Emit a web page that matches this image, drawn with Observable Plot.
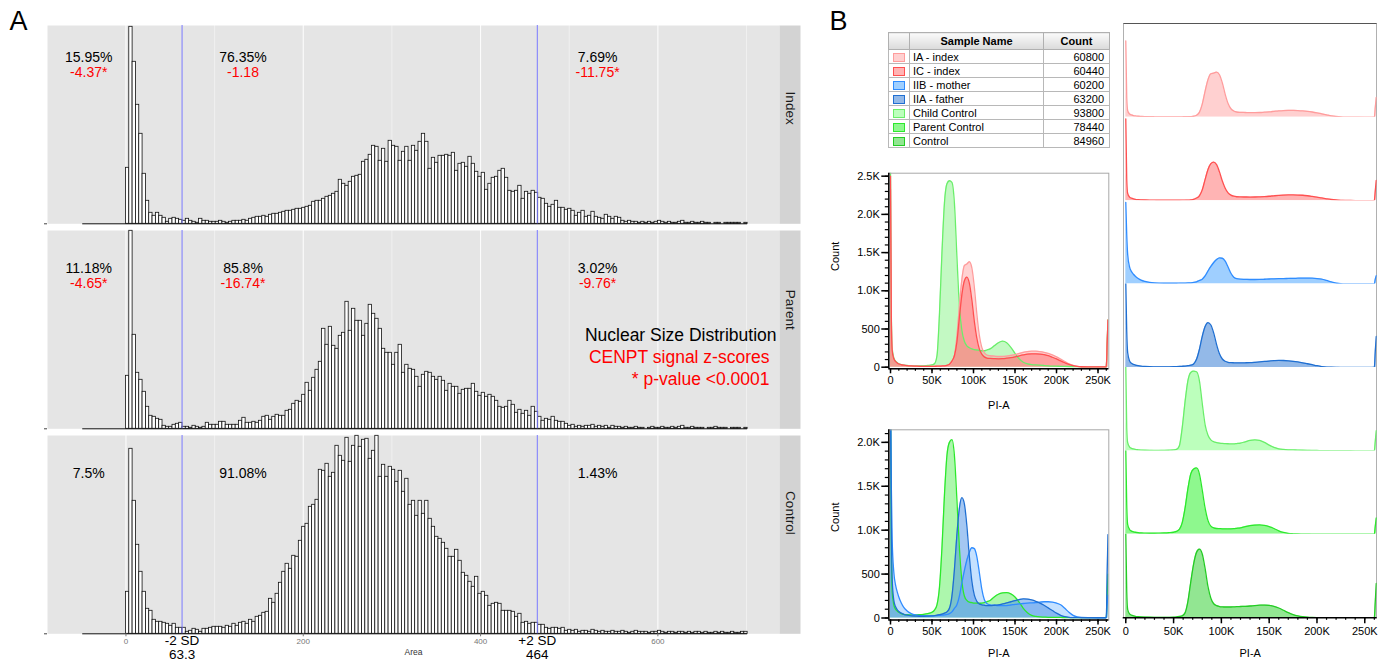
<!DOCTYPE html>
<html>
<head>
<meta charset="utf-8">
<script src="https://cdn.jsdelivr.net/npm/d3@7"></script>
<script src="https://cdn.jsdelivr.net/npm/@observablehq/plot@0.6"></script>
<style>
html,body{margin:0;padding:0;background:#fff;}
#root{position:relative;width:1388px;height:661px;overflow:hidden;font-family:"Liberation Sans",Arial,Helvetica,sans-serif;}
.slot{position:absolute;}
.slot svg{display:block;max-width:none;overflow:visible;}
.letter{position:absolute;font-size:27px;line-height:27px;color:#000;}
#legend{position:absolute;left:888px;top:32px;border-collapse:collapse;font-size:11px;line-height:12px;color:#000;table-layout:fixed;width:221px;}
#legend th{height:16px;background:linear-gradient(#fafafa,#dadada);border:1px solid #b0b0b0;font-weight:bold;padding:0;}
#legend td{height:13px;border:1px solid #b8b8b8;padding:0 3px;white-space:nowrap;overflow:hidden;}
#legend td.sw{padding:0;text-align:center;}
#legend td.num{text-align:right;padding-right:5px;}
.swatch{display:inline-block;width:10px;height:7px;vertical-align:middle;}
#stackbox{position:absolute;left:1122.5px;top:23px;width:254.5px;height:595px;border-left:1px solid #b0b0b0;border-right:1px solid #b0b0b0;border-top:1px solid #555;box-sizing:border-box;}
</style>
</head>
<body>
<div id="root"></div>
<script>
// ---------------- Panel A data ----------------
const facets = ["Index", "Parent", "Control"];
const binStart = -48.75;
const binWidth = 3.75;
const indexCounts = [0,0,0,0,0,0,0,0,0,0,0,0,0,
56,197,162,119,90,50,23,11,8,11,
8,6,2,5,6,5,4,3,5,3,
2,1,5,3,3,2,
2,2,3,2,1,2,3,
3,3,4,3,5,6,7,
7,8,7,9,10,10,11,
12,13,13,14,15,15,16,
17,18,22,23,23,25,27,
28,30,32,44,
40,38,42,47,48,49,62,
64,69,78,77,63,75,62,83,
78,77,63,
72,77,63,78,73,82,
90,
82,55,66,61,68,68,69,68,71,53,
60,61,57,67,60,52,47,51,34,40,
46,47,53,55,46,33,32,33,38,25,
32,30,33,31,26,25,20,17,19,23,
16,16,14,15,13,8,11,13,7,8,
12,7,6,5,9,7,5,7,6,3,
2,3,2,2,1,2,1,2,1,2,3,2,1,2,1,1,2,3,1,1,2,1,1,2,1,1,0,1,1,0,1,1,1,1,1,0,1];
const parentCounts = [0,0,0,0,0,0,0,0,0,0,0,0,0,
53,198,94,56,49,37,22,13,12,10,
9,3,2,
2,4,5,6,2,2,1,3,2,1,2,6,4,4,4,7,7,4,4,4,4,
8,11,6,6,7,6,8,12,13,9,12,14,13,13,
18,19,25,28,27,34,46,38,51,59,67,
100,84,102,83,80,93,96,127,98,120,108,108,
93,105,124,115,110,100,80,76,76,64,76,84,
56,64,60,59,52,42,54,57,56,52,49,52,48,38,45,42,42,35,39,40,40,45,37,33,36,32,34,32,28,22,21,22,28,24,16,19,15,18,13,22,17,12,8,10,9,12,8,7,7,5,3,4,2,3,2,3,3,4,2,3,2,3,1,3,2,
2,1,2,1,1,2,1,1,0,1,2,1,1,2,1,1,2,1,2,3,1,1,2,1,1,1,0,1,1,2,1,1,1,0,1,1,1,0,1];
const controlCounts = [0,0,0,0,0,0,0,0,0,0,0,0,0,
42,185,133,89,62,42,25,23,14,12,
12,11,10,8,10,6,6,6,2,3,
5,4,2,5,5,6,7,7,7,6,
8,7,10,8,11,12,10,14,12,17,
18,21,22,35,31,40,51,62,70,65,
78,77,93,107,110,127,129,134,164,163,
170,157,161,188,178,173,196,172,188,198,
187,194,195,175,183,198,157,169,157,167,
164,152,163,142,155,129,133,118,133,120,
133,115,107,97,95,91,85,77,77,84,
73,61,58,52,47,57,40,42,38,28,
30,31,30,23,23,23,22,17,20,11,12,10,11,11,9,9,6,5,6,6,5,6,3,
4,3,4,2,3,3,2,4,3,2,3,2,2,3,2,2,3,2,1,2,3,2,2,2,1,2,2,3,2,1,2,2,1,2,2,1,2,1,2,2,1,2,1,1,2,1,2,1,1,2,1,1,2,2];
const sdValues = [63.3, 464];
const sdNames = ["-2 SD", "+2 SD"];
const pctLabels = [["15.95%","76.35%","7.69%"],["11.18%","85.8%","3.02%"],["7.5%","91.08%","1.43%"]];
const zLabels = [["-4.37*","-1.18","-11.75*"],["-4.65*","-16.74*","-9.76*"],[]];
const noteLines = ["Nuclear Size Distribution","CENPT signal z-scores","* p-value <0.0001"];
const areaTicks = [0, 200, 400, 600];
const areaMinor = [100, 300, 500, 700];

// ---------------- Panel B data ----------------
const sampleNames = ["IA - index","IC - index","IIB - mother","IIA - father","Child Control","Parent Control","Control"];
const sampleCounts = [60800,60440,60200,63200,93800,78440,84960];
const flowK = [0,1,2,4,6,8,10,13,16,20,25,30,35,40,45,50,53,56,59,62,65,68,71,74,77,80,83,86,89,92,95,98,101,104,107,110,113,116,120,125,130,135,140,145,150,155,160,165,170,175,180,185,190,195,200,205,210,215,220,225,230,240,250,258,260,261,262];
const iaVals = [2330,600,200,100,70,50,40,30,25,20,16,14,12,12,12,12,12,13,14,15,17,20,30,60,150,400,800,1150,1330,1350,1380,1300,1050,700,420,260,190,160,150,145,140,140,145,155,165,180,195,205,210,210,205,195,180,160,135,105,75,45,25,12,6,4,3,3,5,300,610];
const icVals = [2500,650,220,110,75,55,42,32,26,20,16,14,12,12,12,12,12,13,14,16,18,25,40,80,150,330,650,950,1130,1180,1100,880,600,380,240,170,135,120,115,112,110,112,118,125,135,148,160,170,175,175,172,165,150,130,108,82,58,36,20,10,6,4,3,3,5,300,620];
const iibVals = [2500,1500,900,520,380,300,240,170,120,80,50,35,28,25,25,25,26,28,30,32,35,40,50,70,110,150,250,400,540,660,750,800,790,700,520,330,210,165,150,145,140,140,142,148,155,160,165,170,172,175,180,185,185,180,170,150,110,65,30,12,6,4,3,3,5,150,260];
const iiaVals = [2600,1100,450,200,130,95,75,55,42,32,25,22,20,20,22,25,28,32,38,45,55,70,110,250,550,950,1250,1370,1300,1050,700,420,260,190,160,150,145,142,142,145,150,160,172,185,198,210,218,215,205,190,170,145,115,85,55,30,15,8,5,4,3,3,3,3,5,500,950];
const ccVals = [2600,700,250,120,80,60,45,35,28,22,18,16,16,18,22,30,45,150,700,1500,2150,2400,2440,2420,2150,1450,800,480,340,280,255,240,230,225,220,215,215,225,240,280,320,340,320,260,180,110,65,45,35,30,26,22,18,15,13,11,10,9,8,7,6,5,5,5,6,300,620];
const pcVals = [2600,900,300,150,100,80,65,50,42,38,35,35,38,42,50,65,90,150,350,800,1400,1850,2000,2030,1850,1350,800,420,250,200,180,175,170,170,168,170,175,185,200,240,270,285,290,275,240,180,110,60,30,18,12,10,8,7,6,6,5,5,5,4,4,4,4,4,6,250,500];
const ctlVals = [2600,800,250,120,80,60,45,35,28,22,18,15,14,14,15,18,25,40,60,150,500,1100,1650,2000,2100,1950,1500,950,600,430,370,345,335,330,330,330,335,340,345,350,360,375,385,390,380,350,300,230,160,100,60,35,20,12,8,6,5,5,4,4,4,3,3,3,6,500,1050];
const flowSeries = [iaVals, icVals, iibVals, iiaVals, ccVals, pcVals, ctlVals];
const overlay1Members = ["Child Control", "IA - index", "IC - index"];
const overlay2Members = ["Parent Control", "IIB - mother", "IIA - father"];
const xMajorTicks = [0, 50000, 100000, 150000, 200000, 250000];
const yTicks1 = [0, 500, 1000, 1500, 2000, 2500];
const yTicks2 = [0, 500, 1000, 1500, 2000];

// ---------------- styles ----------------
const fontFam = '"Liberation Sans", Arial, Helvetica, sans-serif';
const sampleFill = {"IA - index":"#ffd0d0","IC - index":"#ffb4b4","IIB - mother":"#9fcfff","IIA - father":"#93b9e8","Child Control":"#bcffbc","Parent Control":"#8ef88e","Control":"#92e692"};
const sampleLine = {"IA - index":"#ff9c9c","IC - index":"#ff5050","IIB - mother":"#2f8cff","IIA - father":"#1f6fd2","Child Control":"#6aee6a","Parent Control":"#2ce82c","Control":"#24cc24"};
const overlayFill = {"IA - index":"#ffa6a6","IC - index":"#ff6e6e","IIB - mother":"#8cc4ff","IIA - father":"#4a90e6","Child Control":"#88f488","Parent Control":"#5cf05c","Control":"#5ed85e"};

const root = document.getElementById("root");
function slot(node, left, top) {
  const d = document.createElement("div");
  d.className = "slot";
  d.style.left = left + "px";
  d.style.top = top + "px";
  d.appendChild(node);
  root.appendChild(d);
  return d;
}

// ---------------- Panel A ----------------
const countsByFacet = [indexCounts, parentCounts, controlCounts];
const histRows = facets.flatMap((f, fi) => countsByFacet[fi].map((c, i) => ({
  facet: f, x1: binStart + i * binWidth, x2: binStart + (i + 1) * binWidth, h: c
})));
const histEnd = binStart + indexCounts.length * binWidth;
const labelX = [-42, 132, 532];
const pctRows = facets.flatMap((f, fi) => pctLabels[fi].map((t, ci) => ({facet: f, t, x: labelX[ci]})));
const zRows = facets.flatMap((f, fi) => zLabels[fi].map((t, ci) => ({facet: f, t, x: labelX[ci]})));
const sdRows = sdValues.map((v, i) => ({facet: "Control", x: v, label: sdNames[i] + "\n" + String(v)}));
const frameWA = 810 - 47 - 31;
const mid = {lineAnchor: "middle"};

const plotA = Plot.plot({
  width: 810, height: 661,
  marginLeft: 47, marginRight: 31, marginTop: 25, marginBottom: 27.7,
  style: {fontFamily: fontFam, background: "transparent", overflow: "visible"},
  x: {domain: [-88.5, 737.2]},
  y: {domain: [0, 198.3]},
  fy: {domain: facets, paddingInner: 0.0327, paddingOuter: 0, round: false, axis: null},
  marks: [
    Plot.frame({fill: "#e5e5e5"}),
    Plot.frame({fill: "#d3d3d3", insetLeft: frameWA - 21, dx: 21}),
    Plot.gridX({ticks: areaMinor, stroke: "#ffffff", strokeOpacity: 0.75, strokeWidth: 0.6}),
    Plot.gridX({ticks: areaTicks, stroke: "#ffffff", strokeOpacity: 0.9, strokeWidth: 1.1}),
    Plot.rectY(histRows, {x1: "x1", x2: "x2", y: "h", fy: "facet", fill: "white", stroke: "#111", strokeWidth: 0.8}),
    Plot.ruleY(facets.map(f => ({facet: f})), {fy: "facet", y: 0, x1: binStart, x2: histEnd, stroke: "#111", strokeWidth: 1}),
    Plot.ruleX(sdValues, {x: d => d, stroke: "#7a7aff", strokeWidth: 1}),
    Plot.text(pctRows.filter(d => d.facet === "Index"), {...mid, fy: "facet", x: "x", text: "t", frameAnchor: "top", dy: 31.7, fontSize: 14, fill: "#000"}),
    Plot.text(pctRows.filter(d => d.facet !== "Index"), {...mid, fy: "facet", x: "x", text: "t", frameAnchor: "top", dy: 37.7, fontSize: 14, fill: "#000"}),
    Plot.text(zRows.filter(d => d.facet === "Index"), {...mid, fy: "facet", x: "x", text: "t", frameAnchor: "top", dy: 47.3, fontSize: 14, fill: "#ff0000"}),
    Plot.text(zRows.filter(d => d.facet !== "Index"), {...mid, fy: "facet", x: "x", text: "t", frameAnchor: "top", dy: 53.3, fontSize: 14, fill: "#ff0000"}),
    Plot.text([{facet: "Parent", t: noteLines[0]}], {...mid, fy: "facet", text: "t", frameAnchor: "top-right", textAnchor: "end", dx: -3, dy: 105, fontSize: 17.5, fill: "#000"}),
    Plot.text([{facet: "Parent", t: noteLines[1]}], {...mid, fy: "facet", text: "t", frameAnchor: "top-right", textAnchor: "end", dx: -10, dy: 127, fontSize: 17.5, fill: "#ff0000"}),
    Plot.text([{facet: "Parent", t: noteLines[2]}], {...mid, fy: "facet", text: "t", frameAnchor: "top-right", textAnchor: "end", dx: -10, dy: 149, fontSize: 17.5, fill: "#ff0000"}),
    Plot.text(facets, {fy: d => d, text: d => d, frameAnchor: "right", dx: 10.5, rotate: 90, fontSize: 13.5, fill: "#1a1a1a"}),
    Plot.text(sdRows, {...mid, fy: "facet", x: "x", text: "label", frameAnchor: "bottom", dy: 14, fontSize: 13.5, lineHeight: 0.98, fill: "#000"}),
    Plot.text([{facet: "Control"}], {...mid, fy: "facet", text: () => "Area", frameAnchor: "bottom", dy: 18, fontSize: 8.5, fill: "#333"}),
    Plot.axisY({ticks: [0], tickSize: 3, tickFormat: () => "", stroke: "#444", label: null}),
    Plot.axisX({ticks: areaTicks, tickSize: 3, tickPadding: 2, fontSize: 8, color: "#777", label: null})
  ]
});
slot(plotA, 0, 0);

// ---------------- Panel B helpers ----------------
const flowRows = flowSeries.flatMap((vals, si) => vals.map((v, i) => ({sample: sampleNames[si], x: flowK[i] * 1000, y: v})));
const rowsOf = s => flowRows.filter(d => d.sample === s);
const fmtCount = d => d === 0 ? "0" : d < 1000 ? String(d) : (d / 1000).toFixed(1) + "K";
const fmtK = d => d === 0 ? "0" : (d / 1000) + "K";
const xMinorTicks = d3.range(0, 262000, 10000);
const flowXDomain = [-2050, 263000];

function overlayPlot(members, yDomain, yTicks, height, mt, mb, countDy, labelDy) {
  const marks = [];
  members.forEach(s => marks.push(Plot.areaY(rowsOf(s), {x: "x", y: "y", fill: overlayFill[s], fillOpacity: 0.5, curve: "monotone-x", clip: true})));
  members.forEach(s => marks.push(Plot.line(rowsOf(s), {x: "x", y: "y", stroke: sampleLine[s], strokeWidth: 1.3, curve: "monotone-x", clip: true})));
  marks.push(
    Plot.frame({stroke: "#a8a8a8"}),
    Plot.ruleX([flowXDomain[0]], {stroke: "#000", strokeWidth: 1.5}),
    Plot.ruleY([yDomain[0]], {stroke: "#000", strokeWidth: 1.5}),
    Plot.axisY({ticks: d3.range(0, yDomain[1], 100), tickSize: 3.5, tickFormat: () => "", strokeWidth: 1.2, label: null}),
    Plot.axisY({ticks: yTicks, tickSize: 7, tickPadding: 2, tickFormat: fmtCount, fontSize: 11, strokeWidth: 1.5, label: null, fill: "#000"}),
    Plot.axisX({ticks: xMinorTicks, tickSize: 2.5, tickFormat: () => "", strokeWidth: 1.2, label: null}),
    Plot.axisX({ticks: xMajorTicks, tickSize: 5, tickPadding: 2.5, tickFormat: fmtK, fontSize: 11, strokeWidth: 1.5, label: null, fill: "#000"}),
    Plot.text(["Count"], {text: d => d, frameAnchor: "left", dx: -53.3, dy: countDy, rotate: -90, fontSize: 11, fill: "#000"}),
    Plot.text(["PI-A"], {...mid, text: d => d, frameAnchor: "bottom", dy: labelDy, fontSize: 11, fill: "#000"})
  );
  return Plot.plot({
    width: 300, height,
    marginLeft: 68.3, marginRight: 11.7, marginTop: mt, marginBottom: mb,
    style: {fontFamily: fontFam, background: "transparent", overflow: "visible"},
    x: {domain: flowXDomain},
    y: {domain: yDomain},
    marks
  });
}

slot(overlayPlot(overlay1Members, [-21, 2539], yTicks1, 260, 12.7, 51.7, 0, 36.7), 820, 160);
slot(overlayPlot(overlay2Members, [-22.8, 2143], yTicks2, 241, 9.3, 41.5, 7, 33.8), 820, 420);

// ---------------- stacked histograms ----------------
const box = document.createElement("div");
box.id = "stackbox";
root.appendChild(box);

const stackMarks = [];
sampleNames.forEach(s => {
  stackMarks.push(Plot.areaY(rowsOf(s), {x: "x", y: "y", fy: "sample", fill: sampleFill[s], curve: "monotone-x", clip: true}));
  stackMarks.push(Plot.line(rowsOf(s), {x: "x", y: "y", fy: "sample", stroke: sampleLine[s], strokeWidth: 1.3, curve: "monotone-x", clip: true}));
});
const lastSample = sampleNames[sampleNames.length - 1];
stackMarks.push(
  Plot.ruleY([{sample: lastSample}], {fy: "sample", y: 0, stroke: "#000", strokeWidth: 1.5}),
  Plot.axisX({ticks: xMinorTicks, tickSize: 2.5, tickFormat: () => "", strokeWidth: 1.2, label: null}),
  Plot.axisX({ticks: xMajorTicks, tickSize: 6, tickPadding: 3, tickFormat: fmtK, fontSize: 11, strokeWidth: 1.5, label: null, fill: "#000"}),
  Plot.text([{sample: lastSample}], {...mid, fy: "sample", text: () => "PI-A", frameAnchor: "bottom", dy: 35.4, fontSize: 11, fill: "#000"})
);
const stack = Plot.plot({
  width: 278, height: 661,
  marginLeft: 12.7, marginRight: 11.3, marginTop: 23.3, marginBottom: 43.7,
  style: {fontFamily: fontFam, background: "transparent", overflow: "visible"},
  x: {domain: [-2700, 263000]},
  y: {domain: [0, 2550], axis: null},
  fy: {domain: sampleNames, paddingInner: 0, paddingOuter: 0.06, align: 1, round: false, axis: null},
  marks: stackMarks
});
slot(stack, 1110, 0);

// ---------------- legend table ----------------
const table = document.createElement("table");
table.id = "legend";
let html = '<colgroup><col style="width:21px"><col style="width:134px"><col style="width:66px"></colgroup>';
html += '<tr><th></th><th>Sample Name</th><th>Count</th></tr>';
sampleNames.forEach((s, i) => {
  html += `<tr><td class="sw"><span class="swatch" style="background:${sampleFill[s]};border:1px solid ${sampleLine[s]}"></span></td><td>${s}</td><td class="num">${sampleCounts[i]}</td></tr>`;
});
table.innerHTML = html;
root.appendChild(table);

// ---------------- panel letters ----------------
[["A", 9.5, 8.2], ["B", 829.5, 8.2]].forEach(([t, l, tp]) => {
  const d = document.createElement("div");
  d.className = "letter";
  d.textContent = t;
  d.style.left = l + "px";
  d.style.top = tp + "px";
  root.appendChild(d);
});
</script>
</body>
</html>
